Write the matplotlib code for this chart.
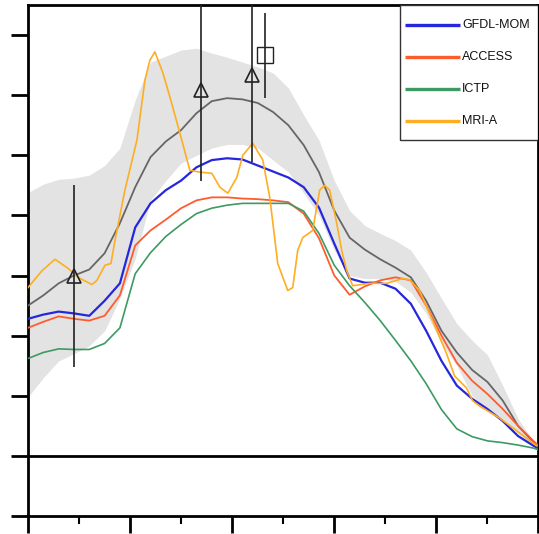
import matplotlib
matplotlib.use("Agg")
import matplotlib.pyplot as plt
import numpy as np
from matplotlib.ticker import MultipleLocator
from matplotlib.patches import Rectangle

plt.rcParams['font.family'] = ['Liberation Sans', 'DejaVu Sans']

# common x grid for the model curves
x = [0, 3, 6, 9, 12, 15, 18, 21, 24, 27, 30, 33, 36, 39, 42, 45, 48, 51,
     54, 57, 60, 63, 66, 69, 72, 75, 78, 81, 84, 87, 90, 93, 96, 99, 100]

gfdl = [2.28, 2.35, 2.40, 2.37, 2.33, 2.58, 2.87, 3.80, 4.20, 4.42, 4.58, 4.80,
        4.92, 4.95, 4.93, 4.83, 4.73, 4.63, 4.47, 4.13, 3.53, 2.95, 2.88, 2.88,
        2.78, 2.53, 2.08, 1.58, 1.17, 0.95, 0.78, 0.58, 0.33, 0.17, 0.12]

access = [2.13, 2.23, 2.32, 2.28, 2.25, 2.33, 2.67, 3.50, 3.75, 3.93, 4.12, 4.25,
          4.30, 4.30, 4.28, 4.27, 4.25, 4.22, 4.03, 3.62, 3.00, 2.68, 2.82, 2.92,
          2.97, 2.92, 2.50, 2.00, 1.55, 1.25, 1.03, 0.78, 0.50, 0.25, 0.17]

ictp = [1.62, 1.72, 1.78, 1.77, 1.77, 1.87, 2.13, 3.03, 3.38, 3.65, 3.85, 4.03,
        4.12, 4.17, 4.20, 4.20, 4.20, 4.20, 4.07, 3.70, 3.17, 2.83, 2.55, 2.25,
        1.92, 1.58, 1.20, 0.77, 0.45, 0.32, 0.25, 0.22, 0.18, 0.13, 0.10]

ens_mean = [2.50, 2.67, 2.87, 3.00, 3.10, 3.37, 3.87, 4.47, 4.97, 5.23, 5.42, 5.70,
            5.90, 5.95, 5.93, 5.87, 5.72, 5.50, 5.17, 4.72, 4.08, 3.63, 3.43, 3.27,
            3.13, 2.97, 2.58, 2.08, 1.72, 1.43, 1.23, 0.92, 0.50, 0.23, 0.15]

ens_hi = [4.38, 4.52, 4.60, 4.62, 4.67, 4.83, 5.12, 5.92, 6.55, 6.65, 6.75, 6.78,
          6.70, 6.63, 6.55, 6.47, 6.37, 6.12, 5.67, 5.25, 4.58, 4.08, 3.83, 3.70,
          3.58, 3.42, 3.05, 2.62, 2.20, 1.92, 1.68, 1.17, 0.62, 0.25, 0.15]

ens_lo = [0.98, 1.30, 1.58, 1.70, 1.83, 2.08, 2.62, 3.28, 4.25, 4.58, 4.87, 5.00,
          5.12, 5.18, 5.18, 5.12, 4.92, 4.72, 4.37, 4.00, 3.42, 3.00, 2.95, 2.95,
          2.90, 2.72, 2.37, 1.88, 1.50, 1.00, 0.77, 0.58, 0.37, 0.18, 0.12]

# MRI-A is much noisier, sampled on its own points
x_mri = [0, 2.74, 5.28, 7.83, 9.78, 12.52, 13.50, 15.07, 16.24, 17.03, 18.98,
         21.33, 22.90, 23.87, 24.85, 26.42, 27.79, 29.75, 31.70, 33.66, 36.01,
         37.57, 39.14, 40.90, 42.07, 44.03, 45.99, 47.36, 48.92, 50.88, 51.86,
         52.84, 53.82, 55.77, 57.14, 58.12, 59.10, 60.47, 61.45, 62.43, 63.60,
         66.93, 70.25, 73.39, 74.76, 76.71, 79.26, 82.00, 83.56, 85.91, 87.08,
         88.45, 92.37, 94.91, 99.61]
mri = [2.80, 3.08, 3.27, 3.12, 2.97, 2.85, 2.92, 3.17, 3.20, 3.58, 4.42,
       5.25, 6.25, 6.58, 6.72, 6.37, 5.97, 5.37, 4.75, 4.72, 4.70,
       4.47, 4.37, 4.63, 5.00, 5.20, 4.92, 4.30, 3.20, 2.75, 2.80,
       3.42, 3.63, 3.75, 4.42, 4.50, 4.42, 3.87, 3.42, 3.08, 2.83,
       2.87, 2.87, 2.95, 2.93, 2.75, 2.25, 1.70, 1.33, 1.13, 0.92,
       0.83, 0.63, 0.47, 0.17]

# observations with error bars
obs_tri_x = [9.0, 33.9, 43.8]
obs_tri_y = [2.99, 6.08, 6.33]
obs_tri_err = [1.51, 1.50, 1.45]
obs_sq_x = [46.4]
obs_sq_y = [6.66]
obs_sq_err = [0.71]

model_names = ['GFDL-MOM', 'ACCESS', 'ICTP', 'MRI-A']
model_colors = ['#2626dc', '#ff5c2e', '#3d9a62', '#ffad22']

fig = plt.figure(figsize=(5.39, 5.34), dpi=100)
ax = fig.add_axes([0.052, 0.0337, 0.947, 0.957])

ax.fill_between(x, ens_lo, ens_hi, color='#e3e3e3', lw=0, zorder=1)
ax.axhline(0, color='black', lw=2, zorder=2)

ax.plot(x, ens_mean, color='#666666', lw=1.3, zorder=3)
ax.plot(x, gfdl, color=model_colors[0], lw=1.6, zorder=4)
ax.plot(x, access, color=model_colors[1], lw=1.3, zorder=4)
ax.plot(x, ictp, color=model_colors[2], lw=1.2, zorder=4)
ax.plot(x_mri, mri, color=model_colors[3], lw=1.2, zorder=4)

ax.errorbar(obs_tri_x, obs_tri_y, yerr=obs_tri_err, fmt='^', ms=10,
            mfc='none', mec='#222222', mew=1.2, ecolor='#222222',
            elinewidth=1.2, capsize=0, zorder=5)
ax.errorbar(obs_sq_x, obs_sq_y, yerr=obs_sq_err, fmt='s', ms=11,
            mfc='none', mec='#222222', mew=1.0, ecolor='#222222',
            elinewidth=1.2, capsize=0, zorder=5)

ax.set_xlim(0, 100)
ax.set_ylim(-1, 7.5)
ax.xaxis.set_major_locator(MultipleLocator(20))
ax.xaxis.set_minor_locator(MultipleLocator(10))
ax.yaxis.set_major_locator(MultipleLocator(1))
ax.tick_params(axis='both', which='major', direction='out', length=12,
               width=2, labelleft=False, labelbottom=False)
ax.tick_params(axis='x', which='minor', direction='out', length=6, width=1.5)
for s in ax.spines.values():
    s.set_linewidth(2)

# legend box drawn by hand in axes coordinates
tr = ax.transAxes
ax.add_patch(Rectangle((0.729, 0.736), 0.271, 0.264, transform=tr,
                       facecolor='white', edgecolor='#333333', lw=1.0,
                       zorder=6))
row_y = [0.961, 0.898, 0.8355, 0.773]
for name, col, ry in zip(model_names, model_colors, row_y):
    ax.plot([0.7386, 0.8464], [ry, ry], color=col, lw=2.4, transform=tr,
            zorder=7, solid_capstyle='butt')
    ax.text(0.8503, ry, name, transform=tr, fontsize=9, va='center',
            ha='left', color='#111111', zorder=7)

fig.savefig('out.png', dpi=100)
